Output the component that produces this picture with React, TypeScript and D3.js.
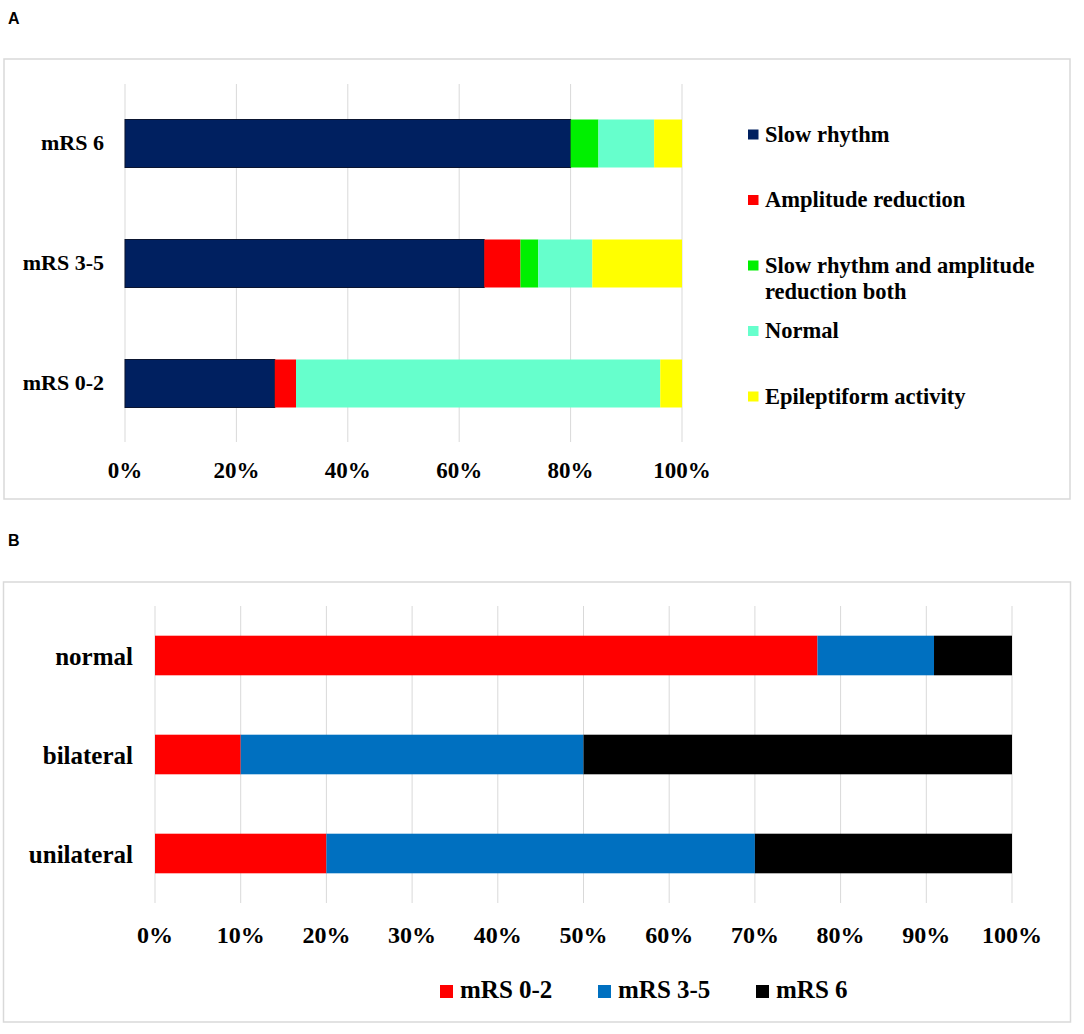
import React, { useEffect, useRef } from 'react';
import * as d3 from 'd3';

// Panel A: EEG pattern by outcome group (percent of patients)
const groupsA = ['mRS 6', 'mRS 3-5', 'mRS 0-2'];
const patternsA = [
  'Slow rhythm',
  'Amplitude reduction',
  'Slow rhythm and amplitude reduction both',
  'Normal',
  'Epileptiform activity',
];
const slowRhythm = [80, 64.5, 26.9];
const amplitudeReduction = [0, 6.5, 3.8];
const slowAndAmplitude = [5, 3.2, 0];
const normalEeg = [10, 9.7, 65.4];
const epileptiform = [5, 16.1, 3.9];
const ticksA = [0, 20, 40, 60, 80, 100];
const colorsA = ['#002060', '#ff0000', '#00f000', '#66ffcc', '#ffff00'];

// Panel B: outcome by EEG laterality (percent of patients)
const groupsB = ['normal', 'bilateral', 'unilateral'];
const outcomesB = ['mRS 0-2', 'mRS 3-5', 'mRS 6'];
const mrs02 = [77.3, 10, 20];
const mrs35 = [13.6, 40, 50];
const mrs6 = [9.1, 50, 30];
const ticksB = [0, 10, 20, 30, 40, 50, 60, 70, 80, 90, 100];
const colorsB = ['#ff0000', '#0070c0', '#000000'];

const SERIF = '"Liberation Serif", "Times New Roman", serif';
const SANS = '"Liberation Sans", Arial, sans-serif';
const GRID = '#d9d9d9';

type Row = { [key: string]: number | string };

const buildRows = (groups: string[], keys: string[], series: number[][]): Row[] =>
  groups.map((g, i) => {
    const row: Row = { group: g };
    keys.forEach((k, j) => {
      row[k] = series[j][i];
    });
    return row;
  });

const App: React.FC = () => {
  const ref = useRef<SVGSVGElement | null>(null);

  useEffect(() => {
    if (!ref.current) return;
    const svg = d3.select(ref.current);
    svg.selectAll('*').remove();

    // ---------- panel A ----------
    svg
      .append('text')
      .attr('x', 8)
      .attr('y', 24)
      .style('font-family', SANS)
      .style('font-weight', 'bold')
      .style('font-size', '16px')
      .text('A');

    svg
      .append('rect')
      .attr('x', 4)
      .attr('y', 59)
      .attr('width', 1066)
      .attr('height', 440)
      .attr('fill', 'white')
      .attr('stroke', GRID)
      .attr('stroke-width', 1.5);

    const xA = d3.scaleLinear().domain([0, 100]).range([125, 682]);
    const yA = d3
      .scaleBand()
      .domain(groupsA)
      .range([83.5, 443.5])
      .paddingInner(0.6)
      .paddingOuter(0.3);

    const gA = svg.append('g');
    gA.selectAll('line.grid')
      .data(ticksA)
      .join('line')
      .attr('class', 'grid')
      .attr('x1', (d) => xA(d))
      .attr('x2', (d) => xA(d))
      .attr('y1', 84)
      .attr('y2', 442)
      .attr('stroke', GRID)
      .attr('stroke-width', 1);

    const rowsA = buildRows(groupsA, patternsA, [
      slowRhythm,
      amplitudeReduction,
      slowAndAmplitude,
      normalEeg,
      epileptiform,
    ]);
    const stackA = d3.stack<Row>().keys(patternsA).value((d, k) => d[k] as number)(rowsA);

    stackA.forEach((layer, i) => {
      gA.selectAll(`rect.a${i}`)
        .data(layer)
        .join('rect')
        .attr('class', `a${i}`)
        .attr('x', (d) => xA(d[0]))
        .attr('y', (d) => yA(d.data.group as string)!)
        .attr('width', (d) => Math.max(0, xA(d[1]) - xA(d[0])))
        .attr('height', yA.bandwidth())
        .attr('fill', colorsA[i])
        .attr('stroke', i === 0 ? '#0b1530' : 'none')
        .attr('stroke-width', 1);
    });

    gA.selectAll('text.cat')
      .data(groupsA)
      .join('text')
      .attr('class', 'cat')
      .attr('x', 104)
      .attr('y', (d) => yA(d)! + yA.bandwidth() / 2)
      .attr('dy', '0.3em')
      .attr('text-anchor', 'end')
      .style('font-family', SERIF)
      .style('font-weight', 'bold')
      .style('font-size', '22px')
      .text((d) => d);

    gA.selectAll('text.tick')
      .data(ticksA)
      .join('text')
      .attr('class', 'tick')
      .attr('x', (d) => xA(d))
      .attr('y', 478)
      .attr('text-anchor', 'middle')
      .style('font-family', SERIF)
      .style('font-weight', 'bold')
      .style('font-size', '23px')
      .text((d) => `${d}%`);

    // legend A
    const legA = svg.append('g');
    patternsA.forEach((name, i) => {
      const cy = 134 + i * 65.5;
      legA
        .append('rect')
        .attr('x', 748)
        .attr('y', cy - 4.5)
        .attr('width', 10.5)
        .attr('height', 10)
        .attr('fill', colorsA[i]);
      const t = legA
        .append('text')
        .attr('x', 765)
        .attr('y', cy + 7.5)
        .style('font-family', SERIF)
        .style('font-weight', 'bold')
        .style('font-size', '22.5px');
      // wrap long labels
      const words = name.split(' ');
      let line: string[] = [];
      let ts = t.append('tspan').attr('x', 765).attr('dy', 0);
      words.forEach((w) => {
        line.push(w);
        ts.text(line.join(' '));
        if ((ts.node() as SVGTSpanElement).getComputedTextLength() > 300 && line.length > 1) {
          line.pop();
          ts.text(line.join(' '));
          line = [w];
          ts = t.append('tspan').attr('x', 765).attr('dy', 26.5).text(w);
        }
      });
    });

    // ---------- panel B ----------
    svg
      .append('text')
      .attr('x', 8)
      .attr('y', 546)
      .style('font-family', SANS)
      .style('font-weight', 'bold')
      .style('font-size', '16px')
      .text('B');

    svg
      .append('rect')
      .attr('x', 3.5)
      .attr('y', 582)
      .attr('width', 1067)
      .attr('height', 440)
      .attr('fill', 'white')
      .attr('stroke', GRID)
      .attr('stroke-width', 1.5);

    const xB = d3.scaleLinear().domain([0, 100]).range([155, 1012]);
    const yB = d3
      .scaleBand()
      .domain(groupsB)
      .range([606, 903])
      .paddingInner(0.6)
      .paddingOuter(0.3);

    const gB = svg.append('g');
    gB.selectAll('line.grid')
      .data(ticksB)
      .join('line')
      .attr('class', 'grid')
      .attr('x1', (d) => xB(d))
      .attr('x2', (d) => xB(d))
      .attr('y1', 606)
      .attr('y2', 903)
      .attr('stroke', GRID)
      .attr('stroke-width', 1);

    const rowsB = buildRows(groupsB, outcomesB, [mrs02, mrs35, mrs6]);
    const stackB = d3.stack<Row>().keys(outcomesB).value((d, k) => d[k] as number)(rowsB);

    stackB.forEach((layer, i) => {
      gB.selectAll(`rect.b${i}`)
        .data(layer)
        .join('rect')
        .attr('class', `b${i}`)
        .attr('x', (d) => xB(d[0]))
        .attr('y', (d) => yB(d.data.group as string)!)
        .attr('width', (d) => Math.max(0, xB(d[1]) - xB(d[0])))
        .attr('height', yB.bandwidth())
        .attr('fill', colorsB[i]);
    });

    gB.selectAll('text.cat')
      .data(groupsB)
      .join('text')
      .attr('class', 'cat')
      .attr('x', 133)
      .attr('y', (d) => yB(d)! + yB.bandwidth() / 2)
      .attr('dy', '0.36em')
      .attr('text-anchor', 'end')
      .style('font-family', SERIF)
      .style('font-weight', 'bold')
      .style('font-size', '25px')
      .text((d) => d);

    gB.selectAll('text.tick')
      .data(ticksB)
      .join('text')
      .attr('class', 'tick')
      .attr('x', (d) => xB(d))
      .attr('y', 943)
      .attr('text-anchor', 'middle')
      .style('font-family', SERIF)
      .style('font-weight', 'bold')
      .style('font-size', '24px')
      .text((d) => `${d}%`);

    // legend B
    const legB = svg.append('g');
    outcomesB.forEach((name, i) => {
      const lx = 440 + i * 158;
      legB
        .append('rect')
        .attr('x', lx)
        .attr('y', 985)
        .attr('width', 13)
        .attr('height', 13)
        .attr('fill', colorsB[i]);
      legB
        .append('text')
        .attr('x', lx + 20)
        .attr('y', 998)
        .style('font-family', SERIF)
        .style('font-weight', 'bold')
        .style('font-size', '25px')
        .text(name);
    });
  }, []);

  return (
    <div style={{ position: 'absolute', left: 0, top: 0 }}>
      <svg ref={ref} width={1084} height={1034} style={{ display: 'block', background: 'white' }} />
    </div>
  );
};

export default App;
